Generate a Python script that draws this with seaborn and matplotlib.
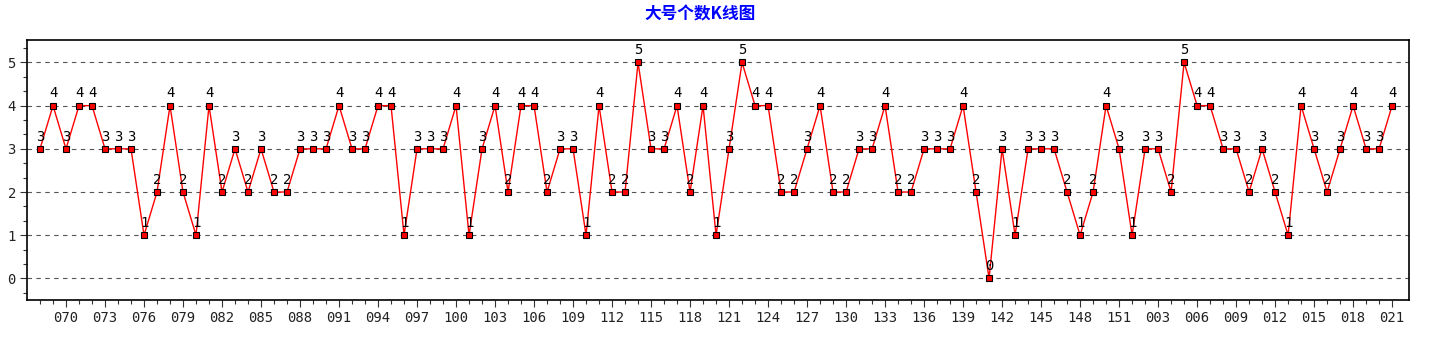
import numpy as np
import pandas as pd
import matplotlib
matplotlib.use("Agg")
import matplotlib.pyplot as plt
import seaborn as sns
from matplotlib.ticker import MultipleLocator, FixedLocator

issues = [f"{i:03d}" for i in range(68, 152)] + [f"{i:03d}" for i in range(1, 22)]
values = [3, 4, 3, 4, 4, 3, 3, 3, 1, 2, 4, 2, 1, 4, 2, 3, 2, 3, 2, 2, 3, 3, 3, 4, 3,
          3, 4, 4, 1, 3, 3, 3, 4, 1, 3, 4, 2, 4, 4, 2, 3, 3, 1, 4, 2, 2, 5, 3, 3, 4, 2, 4,
          1, 3, 5, 4, 4, 2, 2, 3, 4, 2, 2, 3, 3, 4, 2, 2, 3, 3, 3, 4, 2, 0, 3, 1, 3, 3, 3,
          2, 1, 2, 4, 3, 1, 3, 3, 2, 5, 4, 4, 3, 3, 2, 3, 2, 1, 4, 3, 2, 3, 4, 3, 3, 4]
title = "大号个数K线图"

df = pd.DataFrame({"idx": np.arange(len(issues)), "issue": issues, "value": values})

sns.set_theme(style="white")
plt.rcParams['font.family'] = ['DejaVu Sans', 'Noto Sans CJK SC']

fig = plt.figure(figsize=(14.4, 3.5), dpi=100)
ax = fig.add_axes([27/1440, 1 - 300/350, (1409 - 27)/1440, 260/350])

sns.lineplot(data=df, x="idx", y="value", ax=ax, color="#ff0000", linewidth=1.0,
             marker="s", markersize=4.5, markerfacecolor="#ff0000",
             markeredgecolor="black", markeredgewidth=0.8)

for i, v in zip(df["idx"], df["value"]):
    ax.text(i, v + 0.12, str(v), ha="center", va="bottom", fontsize=10,
            color="black", family="DejaVu Sans Mono")

ax.set_xlim(-1, len(issues) - 1 + 1.3)
ax.set_ylim(-0.5, 5.52)
ax.yaxis.set_major_locator(MultipleLocator(1))
ax.yaxis.set_minor_locator(FixedLocator([k / 3 for k in range(-1, 17) if k % 3 != 0]))
ax.xaxis.set_major_locator(FixedLocator(list(range(2, len(issues), 3))))
ax.xaxis.set_minor_locator(FixedLocator(list(range(len(issues)))))
ax.set_xticklabels([issues[i] for i in range(2, len(issues), 3)])

for y in range(0, 6):
    ax.axhline(y, color="#555555", linestyle=(0, (4, 4)), linewidth=0.8, zorder=0)

ax.tick_params(axis="both", which="major", direction="out", length=5, width=0.8,
               color="#333333", labelsize=10, labelcolor="#222222", pad=3,
               bottom=True, left=True)
ax.tick_params(axis="both", which="minor", direction="out", length=3, width=0.8,
               color="#333333", bottom=True, left=True)
for lab in ax.get_xticklabels() + ax.get_yticklabels():
    lab.set_family("DejaVu Sans Mono")

for s in ax.spines.values():
    s.set_color("black")
    s.set_linewidth(1.2)
    s.set_visible(True)

ax.set_xlabel("")
ax.set_ylabel("")
fig.text(700/1440, 1 - 14/350, title, ha="center", va="center", fontsize=12,
         fontweight="bold", color="#0000ff", family=["Noto Sans CJK SC", "DejaVu Sans"])

fig.savefig("out.png", dpi=100, facecolor="white")
